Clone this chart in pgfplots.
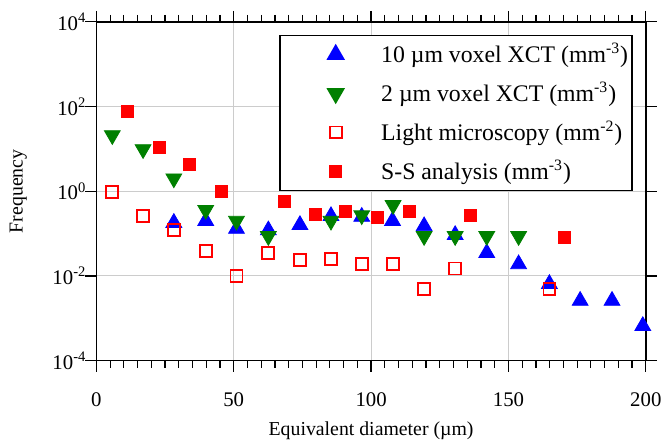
\documentclass[border=0pt]{standalone}
\usepackage{fontspec}
\setmainfont{Liberation Serif}
\usepackage{pgfplots}
\pgfplotsset{compat=1.18}
\definecolor{xgreen}{RGB}{0,128,0}

\begin{document}
\begin{tikzpicture}
  \begin{axis}[
    scale only axis,
    width=276.5bp,
    height=170.5bp,
    font=\fontsize{10}{12}\selectfont,
    xmin=0, xmax=200,
    ymode=log,
    ymin=1e-4, ymax=1e4,
    xtick={0,50,100,150,200},
    xticklabels={0,50,100,150,200},
    minor x tick num=9,
    ytick={1e-4,1e-2,1,1e2,1e4},
    yticklabels={10\textsuperscript{-4},10\textsuperscript{-2},10\textsuperscript{0},10\textsuperscript{2},10\textsuperscript{4}},
    yminorticks=false,
    tick align=outside,
    major tick length=5.5bp,
    minor tick length=3.5bp,
    tick style={black, line width=0.6bp},
    axis line style={line width=0.8bp},
    xticklabel style={yshift=-7bp, font=\fontsize{10.5}{12}\selectfont},
    yticklabel style={xshift=4bp, font=\fontsize{10.5}{12}\selectfont},
    xlabel style={yshift=-1bp},
    ylabel style={yshift=6bp},
    grid=major,
    major grid style={gray!40, line width=0.5bp},
    xlabel={Equivalent diameter (µm)},
    ylabel={Frequency},
    legend cell align=left,
    legend style={
      at={(1,1)}, anchor=north east, xshift=-6.5bp, yshift=-6.5bp,
      draw=black, line width=0.8bp,
      inner xsep=0pt, inner ysep=2bp,
      row sep=4.5bp,
      font=\fontsize{12}{14}\selectfont,
    },
    legend image code/.code={%
      \path (0bp,0bp) (48bp,0bp);
      \draw[#1] plot coordinates {(27.5bp,0bp)};
    },
  ]
    \addplot[only marks, mark=triangle*, mark size=4.6bp, blue, mark options={fill=blue, draw=blue}]
      coordinates {
        (28.2,0.18) (39.8,0.20) (51.0,0.13) (62.6,0.12) (74.1,0.16)
        (85.4,0.26) (96.6,0.25) (107.8,0.20) (119.3,0.15) (130.6,0.093)
        (142.1,0.035) (153.7,0.019) (164.9,0.0065) (176.1,0.0026)
        (187.7,0.0026) (198.9,0.00066)
      };
    \addlegendentry{10 µm voxel XCT (mm\textsuperscript{-3})}
    \addplot[only marks, mark=triangle*, mark size=4.6bp, xgreen, mark options={rotate=180, fill=xgreen, draw=xgreen}]
      coordinates {
        (5.8,21) (17.0,9.8) (28.2,2.0) (39.8,0.36) (51.0,0.20) (62.6,0.087)
        (85.4,0.20) (96.6,0.27) (108.0,0.47) (119.3,0.087) (130.6,0.087)
        (142.1,0.087) (153.7,0.087)
      };
    \addlegendentry{2 µm voxel XCT (mm\textsuperscript{-3})}
    \addplot[only marks, mark=square, mark size=3bp, red, mark options={draw=red, line width=0.9bp}]
      coordinates {
        (5.8,0.95) (17.0,0.26) (28.2,0.12) (39.8,0.039) (51.0,0.010)
        (62.6,0.035) (74.1,0.024) (85.4,0.025) (96.6,0.019) (108.0,0.019)
        (119.3,0.0049) (130.6,0.015) (164.9,0.0049)
      };
    \addlegendentry{Light microscopy (mm\textsuperscript{-2})}
    \addplot[only marks, mark=square*, mark size=3bp, red, mark options={fill=red, draw=red}]
      coordinates {
        (11.2,76) (22.8,11) (34.0,4.3) (45.6,1.0) (68.4,0.58) (79.6,0.29)
        (90.8,0.34) (102.4,0.24) (113.9,0.34) (136.3,0.27) (170.3,0.083)
      };
    \addlegendentry{S-S analysis (mm\textsuperscript{-3})}
  \end{axis}
  \path ([shift={(-48.5bp,-41bp)}]current axis.south west)
        rectangle ([shift={(9bp,11bp)}]current axis.north east);
\end{tikzpicture}
\end{document}
